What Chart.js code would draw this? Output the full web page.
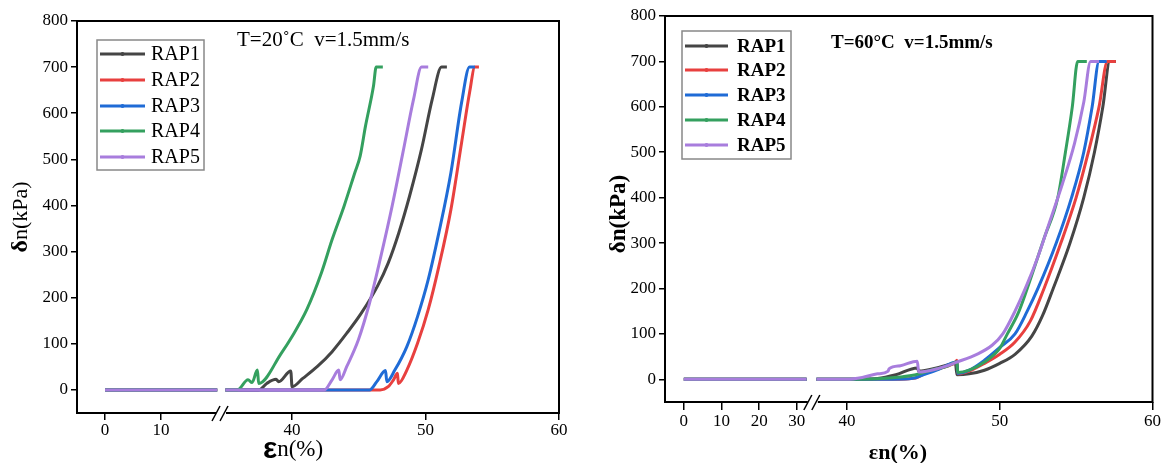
<!DOCTYPE html>
<html>
<head>
<meta charset="utf-8">
<script src="https://cdn.jsdelivr.net/npm/chart.js@4.4.0/dist/chart.umd.min.js"></script>
<style>
  body { margin: 0; background: #fff; }
  #wrap { position: relative; width: 1162px; height: 463px; }
  canvas { position: absolute; top: 0; }
</style>
</head>
<body>
<div id="wrap">
  <canvas id="left" width="580" height="463" style="left:0"></canvas>
  <canvas id="right" width="582" height="463" style="left:580px"></canvas>
</div>
<script>
const seriesNames = ['RAP1', 'RAP2', 'RAP3', 'RAP4', 'RAP5'];
const seriesColors = ['#454545', '#e8403f', '#1f6bd6', '#34a05f', '#a87ddd'];
const yTicks = [0, 100, 200, 300, 400, 500, 600, 700, 800];
const xTicks20 = [0, 10, 40, 50, 60];
const xTicks60 = [0, 10, 20, 30, 40, 50, 60];

// [strain %, stress kPa]; null marks the axis break
const t20Rap1 = [[0,0],[20,0],null,[35,0],[37.5,0],[38.1,14],[38.8,23],[39.0,18],[39.9,41],[40.0,7],[40.8,25],[41.9,51],[43,83],[44.1,123],[45.2,167],[46.4,225],[47.2,275],[48.0,341],[48.8,420],[49.7,522],[50.5,630],[51.2,700],[51.6,700]];
const t20Rap2 = [[0,0],[20,0],null,[35,0],[46.6,0],[47.2,7],[47.6,22],[47.9,36],[47.96,14],[48.6,43],[49.4,101],[50.2,174],[51.0,268],[51.9,391],[52.7,536],[53.3,645],[53.7,700],[54.0,700]];
const t20Rap3 = [[0,0],[20,0],null,[35,0],[45.8,0],[46.35,18],[47.0,42],[47.1,18],[47.7,43],[48.6,94],[49.4,159],[50.2,239],[51.0,341],[51.9,471],[52.7,623],[53.3,700],[53.7,700]];
const t20Rap4 = [[0,0],[20,0],null,[35,0],[35.9,0],[36.7,22],[37.0,16],[37.4,43],[37.5,14],[39.2,80],[40.0,116],[41.1,174],[42.2,254],[43.0,326],[43.9,399],[44.7,471],[45.1,507],[45.5,572],[46.1,659],[46.3,700],[46.8,700]];
const t20Rap5 = [[0,0],[20,0],null,[35,0],[42.4,0],[43.0,22],[43.5,43],[43.6,22],[44.1,51],[44.97,109],[45.8,188],[46.6,283],[47.5,399],[48.3,514],[49.1,630],[49.7,700],[50.2,700]];

const t60Rap1 = [[0,0],[32.6,0],null,[38,0],[40,0],[42,2],[43.2,10],[44.6,25],[44.7,18],[46,26],[47.1,35],[47.2,10],[48,12],[49,20],[50,35],[51,55],[52.1,95],[52.8,140],[53.5,200],[54.6,300],[55.5,400],[56.2,500],[56.75,600],[57.2,700],[57.6,700]];
const t60Rap2 = [[0,0],[32.6,0],null,[38,0],[40,0],[43,0],[44.5,3],[45.2,15],[46.2,25],[47.1,38],[47.2,42],[47.25,12],[48,18],[49,35],[50,55],[51,82],[52,128],[52.9,200],[54.0,300],[55.0,400],[55.8,500],[56.5,600],[57.05,700],[57.6,700]];
const t60Rap3 = [[0,0],[32.6,0],null,[38,0],[40,0],[43,0],[44.3,2],[45,10],[46,22],[47.2,38],[47.25,13],[48,20],[49,42],[50,70],[51,100],[51.8,150],[52.5,200],[53.7,300],[54.7,400],[55.5,500],[56.05,600],[56.5,700],[57.0,700]];
const t60Rap4 = [[0,0],[32.6,0],null,[38,0],[40,0],[42,1],[43.5,5],[44.5,10],[45.5,20],[46.5,28],[47.2,38],[47.25,15],[48,20],[49,38],[50,68],[50.5,100],[51.2,145],[51.8,200],[52.9,310],[53.8,400],[54.3,500],[54.75,600],[55.1,700],[55.7,700]];
const t60Rap5 = [[0,0],[32.6,0],null,[38,0],[40,0],[41,4],[42,12],[42.7,18],[42.75,23],[43.5,30],[44.6,40],[44.7,16],[46,24],[47.2,38],[48.5,55],[49.5,75],[50.2,100],[51.0,150],[51.8,210],[52.5,270],[53.2,340],[54.1,430],[54.9,520],[55.5,610],[55.95,700],[56.5,700]];

// linear scale with a gap: [min, from] on the left part, [to, max] on the right part
class BrokenScale extends Chart.LinearScale {
  splitPixel() {
    return this.left + this.width * this.options.brk.split;
  }
  getPixelForValue(v) {
    if (v === null || v === undefined || isNaN(v)) return NaN;
    const b = this.options.brk, s = this.splitPixel();
    if (v <= b.from) return this.left + (v - this.min) / (b.from - this.min) * (s - this.left);
    return s + (v - b.to) / (this.max - b.to) * (this.right - s);
  }
  getValueForPixel(p) {
    const b = this.options.brk, s = this.splitPixel();
    if (p <= s) return this.min + (p - this.left) / (s - this.left) * (b.from - this.min);
    return b.to + (p - s) / (this.right - s) * (this.max - b.to);
  }
}
BrokenScale.id = 'broken';
BrokenScale.defaults = {};
Chart.register(BrokenScale);

function toPoints(list, gapX) {
  return list.map(p => p ? { x: p[0], y: p[1] } : { x: gapX, y: null });
}

// frame, break marks, titles and the legend box
const decorPlugin = {
  id: 'decor',
  afterDraw(chart, args, o) {
    const { ctx, chartArea: a } = chart;
    const s = chart.scales.x.splitPixel();
    ctx.save();
    ctx.strokeStyle = '#000';
    ctx.lineWidth = 2;
    ctx.beginPath();
    ctx.moveTo(s - 4, a.bottom);
    ctx.lineTo(a.left, a.bottom);
    ctx.lineTo(a.left, a.top);
    ctx.lineTo(a.right, a.top);
    ctx.lineTo(a.right, a.bottom);
    ctx.lineTo(s + 6, a.bottom);
    ctx.stroke();
    ctx.lineWidth = 1.5;
    [-4, 4].forEach(dx => {
      ctx.beginPath();
      ctx.moveTo(s + dx - 4, a.bottom + 8);
      ctx.lineTo(s + dx + 4, a.bottom - 7);
      ctx.stroke();
    });

    ctx.fillStyle = '#000';
    ctx.textBaseline = 'middle';
    ctx.textAlign = 'left';
    ctx.font = o.titleFont;
    ctx.fillText(o.title, o.titleX, o.titleY);

    // axis titles: symbol + rest, centred on a point
    const drawPair = (parts, cx, cy) => {
      let w = 0;
      parts.forEach(p => { ctx.font = p[1]; w += ctx.measureText(p[0]).width; });
      let x = cx - w / 2;
      parts.forEach(p => {
        ctx.font = p[1];
        ctx.fillText(p[0], x, cy);
        x += ctx.measureText(p[0]).width;
      });
    };
    drawPair(o.xTitle, o.xTitleX, o.xTitleY);
    ctx.save();
    ctx.translate(o.yTitleX, o.yTitleY);
    ctx.rotate(-Math.PI / 2);
    drawPair(o.yTitle, 0, 0);
    ctx.restore();

    // legend
    const L = o.legend;
    ctx.fillStyle = '#fff';
    ctx.fillRect(L.x, L.y, L.w, L.h);
    ctx.strokeStyle = '#888';
    ctx.lineWidth = 1.5;
    ctx.strokeRect(L.x, L.y, L.w, L.h);
    chart.data.datasets.forEach((ds, i) => {
      const y = L.rows[i];
      ctx.strokeStyle = ds.borderColor;
      ctx.lineWidth = 3;
      ctx.beginPath();
      ctx.moveTo(L.x + 3, y);
      ctx.lineTo(L.x + L.line, y);
      ctx.stroke();
      ctx.fillStyle = ds.borderColor;
      ctx.beginPath();
      ctx.arc(L.x + 3 + (L.line - 3) / 2, y, 2, 0, Math.PI * 2);
      ctx.fill();
      ctx.fillStyle = '#000';
      ctx.font = L.font;
      ctx.fillText(ds.label, L.x + L.text, y + 1);
    });
    ctx.restore();
  }
};

function makeChart(id, series, cfg) {
  const datasets = series.map((list, i) => ({
    label: seriesNames[i],
    data: toPoints(list, cfg.brk.from + 1),
    borderColor: seriesColors[i],
    backgroundColor: seriesColors[i],
    borderWidth: 3,
    pointRadius: 0,
    cubicInterpolationMode: 'monotone',
    spanGaps: false,
    order: 5 - i
  }));
  const tickFont = { family: 'Liberation Serif', size: 17 };
  return new Chart(document.getElementById(id), {
    type: 'line',
    data: { datasets },
    plugins: [decorPlugin],
    options: {
      responsive: false,
      animation: false,
      layout: { padding: { top: cfg.top, right: cfg.right, left: 0, bottom: 0 } },
      plugins: {
        legend: { display: false },
        tooltip: { enabled: false },
        decor: cfg.decor
      },
      scales: {
        x: {
          type: 'broken',
          brk: cfg.brk,
          min: -5,
          max: 60,
          afterBuildTicks: s => { s.ticks = cfg.xTicks.map(v => ({ value: v })); },
          afterFit: s => { s.height = cfg.xHeight; },
          ticks: { font: tickFont, color: '#000', padding: cfg.xPad, maxRotation: 0, autoSkip: false, callback: v => v },
          grid: { drawOnChartArea: false, tickLength: cfg.xTick, color: '#000', lineWidth: 1.5 },
          border: { display: false }
        },
        y: {
          min: -50,
          max: 800,
          afterBuildTicks: s => { s.ticks = yTicks.map(v => ({ value: v })); },
          afterFit: s => { s.width = cfg.yWidth; },
          ticks: { font: tickFont, color: '#000', padding: 3, callback: v => v },
          grid: { drawOnChartArea: false, tickLength: 6, color: '#000', lineWidth: 1.5 },
          border: { display: false }
        }
      }
    }
  });
}

makeChart('left', [t20Rap1, t20Rap2, t20Rap3, t20Rap4, t20Rap5], {
  top: 21, right: 21, yWidth: 77, xHeight: 50, xPad: 0, xTick: 7,
  xTicks: xTicks20,
  brk: { from: 20.5, to: 34.6, split: 0.2967 },
  decor: {
    title: 'T=20\u02DAC  v=1.5mm/s', titleFont: '21px "Liberation Serif"', titleX: 237, titleY: 40,
    xTitle: [['\u03B5', 'bold 30px "Liberation Sans"'], ['n(%)', '23px "Liberation Serif"']],
    xTitleX: 293, xTitleY: 450,
    yTitle: [['\u03B4', 'bold 24px "Liberation Serif"'], ['n(kPa)', '22px "Liberation Serif"']],
    yTitleX: 21, yTitleY: 217,
    legend: { x: 97, y: 40, w: 107, h: 130, rows: [54, 80, 106, 131, 157], line: 48, text: 54, font: '20px "Liberation Serif"' }
  }
});

makeChart('right', [t60Rap1, t60Rap2, t60Rap3, t60Rap4, t60Rap5], {
  top: 16, right: 9, yWidth: 85, xHeight: 61, xPad: 1, xTick: 8,
  xTicks: xTicks60,
  brk: { from: 34, to: 37.7, split: 0.3012 },
  decor: {
    title: 'T=60\u00B0C  v=1.5mm/s', titleFont: 'bold 19px "Liberation Serif"', titleX: 251, titleY: 43,
    xTitle: [['\u03B5n(%)', 'bold 22px "Liberation Serif"']],
    xTitleX: 318, xTitleY: 453,
    yTitle: [['\u03B4n(kPa)', 'bold 23px "Liberation Serif"']],
    yTitleX: 39, yTitleY: 214,
    legend: { x: 102, y: 31, w: 109, h: 128, rows: [46, 70, 95, 120, 145], line: 46, text: 55, font: 'bold 19px "Liberation Serif"' }
  }
});
</script>
</body>
</html>
